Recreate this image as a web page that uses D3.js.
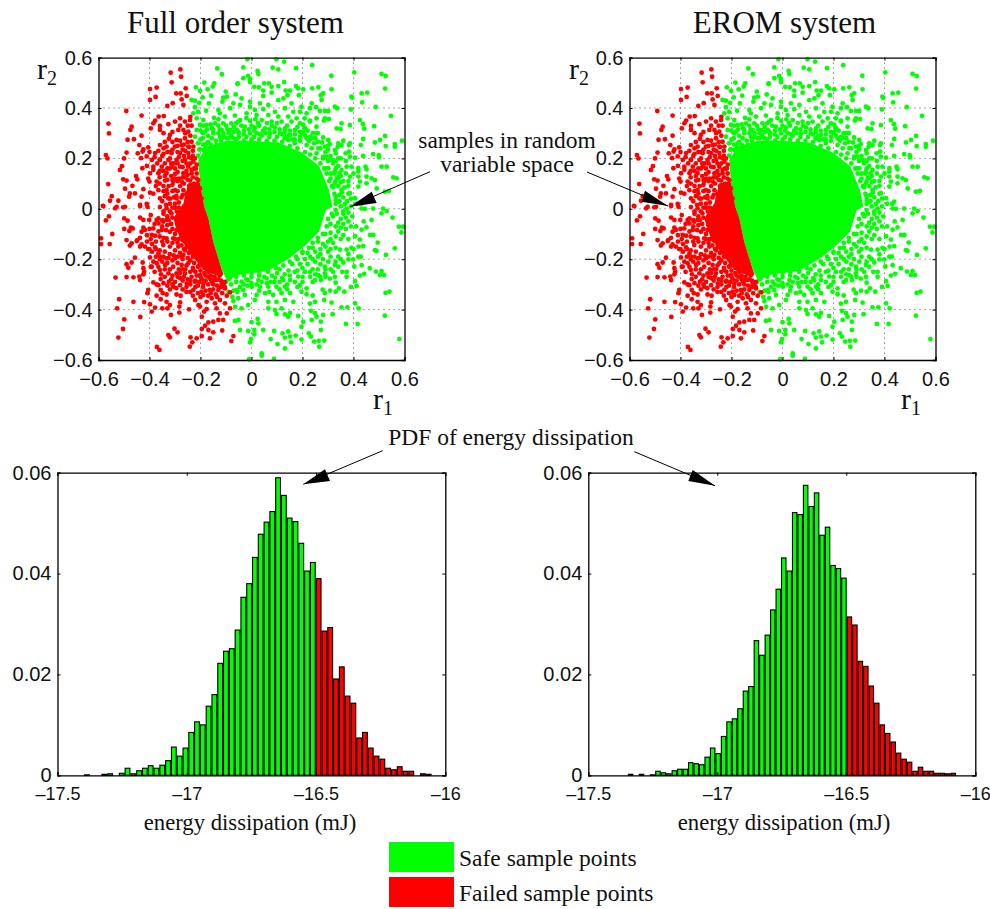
<!DOCTYPE html>
<html lang="en">
<head>
  <meta charset="UTF-8">
  <title>Full order vs EROM</title>
  <script src="https://d3js.org/d3.v7.min.js"></script>
  <style>
    html, body { margin: 0; padding: 0; background: #fff; }
    svg { display: block; }
    .serif { font-family: "Liberation Serif", serif; fill: #111; }
    .axis text { font-family: "Liberation Sans", sans-serif; font-size: 20px; fill: #111; }
    .axis path, .axis line { stroke: #000; }
  </style>
</head>
<body>
<svg id="main" width="990" height="909"></svg>
<script>
  // samples (r1, r2), both panels show the same draw
  const failedPoints = [
    [-.279,.553],[-.317,.540],[-.276,.524],[-.313,.502],[-.258,.478],[-.372,.481],[-.398,.475],[-.295,.458],[-.278,.458],[-.254,.448],
    [-.376,.444],[-.398,.432],[-.274,.434],[-.309,.419],[-.330,.408],[-.267,.412],[-.491,.388],[-.431,.370],[-.344,.368],[-.364,.366],
    [-.378,.350],[-.385,.339],[-.241,.352],[-.261,.346],[-.280,.359],[-.300,.346],[-.326,.336],[-.561,.338],[-.470,.326],[-.475,.313],
    [-.395,.319],[-.359,.329],[-.559,.299],[-.431,.290],[-.486,.274],[-.461,.276],[-.359,.313],[-.320,.293],[-.287,.313],[-.267,.313],
    [-.248,.306],[-.324,.278],[-.294,.273],[-.261,.280],[-.235,.266],[-.440,.253],[-.405,.244],[-.424,.236],[-.359,.253],[-.333,.247],
    [-.300,.247],[-.274,.253],[-.248,.247],[-.228,.247],[-.427,.227],[-.446,.220],[-.490,.223],[-.571,.213],[-.565,.200],[-.500,.200],
    [-.433,.201],[-.411,.208],[-.378,.221],[-.345,.218],[-.313,.221],[-.280,.221],[-.248,.221],[-.222,.200],[-.391,.194],[-.359,.194],
    [-.326,.194],[-.294,.194],[-.261,.194],[-.228,.187],[-.508,.169],[-.516,.154],[-.428,.161],[-.385,.167],[-.352,.167],[-.313,.167],
    [-.280,.167],[-.248,.167],[-.218,.160],[-.503,.117],[-.490,.112],[-.453,.130],[-.448,.117],[-.398,.141],[-.365,.141],[-.333,.141],
    [-.300,.138],[-.267,.141],[-.235,.141],[-.562,.098],[-.496,.080],[-.467,.091],[-.424,.078],[-.400,.108],[-.372,.108],[-.339,.112],
    [-.307,.108],[-.274,.108],[-.241,.112],[-.209,.114],[-.548,.050],[-.555,.032],[-.522,.032],[-.477,.061],[-.480,.048],[-.457,.061],
    [-.431,.048],[-.398,.064],[-.365,.074],[-.333,.074],[-.300,.074],[-.267,.074],[-.235,.074],[-.202,.081],[-.583,.012],[-.529,.008],
    [-.503,.006],[-.437,.015],[-.411,.019],[-.359,.041],[-.326,.041],[-.294,.041],[-.254,.041],[-.222,.041],[-.196,.041],
    [-.581,.011],[-.535,.002],[-.496,.008],[-.437,.011],[-.408,.008],[-.559,-.030],[-.571,-.046],[-.546,-.100],[-.590,-.117],[-.590,-.140],
    [-.556,-.140],[-.499,-.038],[-.486,-.047],[-.499,-.080],[-.473,-.075],[-.466,-.078],[-.479,-.088],[-.437,-.035],[-.424,-.044],[-.401,-.044],
    [-.395,-.025],[-.424,-.075],[-.431,-.091],[-.418,-.084],[-.490,-.124],[-.470,-.137],[-.477,-.146],[-.437,-.115],[-.448,-.124],[-.450,-.128],
    [-.391,-.104],[-.378,-.107],[-.431,-.141],[-.437,-.150],[-.418,-.150],[-.405,-.160],[-.378,-.153],[-.457,-.194],[-.470,-.213],[-.490,-.220],
    [-.483,-.234],[-.427,-.213],[-.398,-.193],[-.424,-.236],[-.421,-.250],[-.424,-.260],[-.391,-.230],[-.365,-.177],[-.365,-.038],[-.372,-.044],
    [-.346,-.051],[-.333,-.044],[-.365,-.058],[-.385,-.078],[-.352,-.084],[-.320,-.091],[-.294,-.084],[-.333,-.117],[-.307,-.117],[-.346,-.144],
    [-.320,-.150],[-.287,-.150],[-.359,-.190],[-.333,-.197],[-.300,-.197],[-.267,-.183],[-.372,-.216],[-.339,-.223],[-.307,-.230],[-.274,-.223],
    [-.248,-.216],[-.359,-.243],[-.326,-.256],[-.294,-.256],[-.261,-.256],[-.228,-.243],[-.202,-.263],[-.169,-.250],[-.533,-.273],[-.490,-.271],
    [-.463,-.272],[-.440,-.269],[-.437,-.283],[-.356,-.279],[-.324,-.289],[-.385,-.292],[-.372,-.300],[-.365,-.303],[-.405,-.322],[-.408,-.335],
    [-.372,-.345],[-.356,-.322],[-.348,-.335],[-.333,-.340],[-.307,-.309],[-.280,-.303],[-.254,-.296],[-.222,-.289],[-.189,-.296],[-.156,-.289],
    [-.137,-.283],[-.117,-.296],[-.294,-.340],[-.278,-.345],[-.228,-.322],[-.196,-.329],[-.163,-.322],[-.130,-.322],[-.104,-.316],[-.519,-.359],
    [-.527,-.395],[-.463,-.369],[-.421,-.370],[-.398,-.379],[-.378,-.392],[-.391,-.408],[-.356,-.359],[-.333,-.369],[-.320,-.382],[-.350,-.395],
    [-.330,-.395],[-.280,-.371],[-.283,-.388],[-.221,-.362],[-.208,-.382],[-.189,-.342],[-.156,-.355],[-.124,-.362],[-.097,-.345],[-.084,-.332],
    [-.245,-.399],[-.176,-.369],[-.143,-.375],[-.104,-.375],[-.202,-.388],[-.176,-.398],[-.137,-.395],[-.084,-.395],[-.316,-.421],[-.283,-.412],
    [-.436,-.429],[-.499,-.439],[-.186,-.408],[-.195,-.428],[-.124,-.415],[-.097,-.415],[-.111,-.441],[-.130,-.441],[-.150,-.448],[-.169,-.451],
    [-.182,-.464],[-.195,-.477],[-.169,-.481],[-.150,-.490],[-.115,-.483],[-.302,-.476],[-.290,-.490],[-.326,-.501],[-.320,-.510],[-.239,-.510],
    [-.215,-.514],[-.195,-.505],[-.232,-.530],[-.242,-.547],[-.163,-.514],[-.071,-.505],[-.079,-.525],[-.522,-.511],[-.504,-.477],[-.371,-.548],[-.361,-.560],
    [-.359,.007],[-.333,.002],[-.300,.004],[-.293,-.011],[-.314,-.018],[-.289,-.030],[-.274,-.059],[-.248,-.070],[-.215,-.057],[-.189,-.044],
    [-.268,-.104],[-.235,-.097],[-.202,-.091],[-.182,-.117],[-.228,-.137],[-.202,-.150],[-.254,-.150],[-.177,-.190]
  ];
  // where the red dots crowd together
  const failedCrowd = [
    [-.345,.09],[-.33,.06],[-.31,.095],[-.295,.05],[-.28,.09],[-.26,.125],[-.245,.09],[-.23,.125],[-.215,.14],[-.225,.16],
    [-.24,.18],[-.255,.15],[-.27,.165],[-.285,.12],[-.3,.16],[-.315,.13],[-.33,.115],[-.345,.15],[-.36,.125],[-.375,.09],
    [-.385,.06],[-.35,.03],[-.32,.02],[-.3,.02],[-.285,.025],[-.27,.055],[-.255,.06],[-.34,.18],[-.32,.2],[-.305,.18],
    [-.285,.205],[-.265,.21],[-.245,.205],[-.23,.21],[-.215,.175],[-.35,.21],[-.37,.18],[-.385,.155],[-.405,.12],[-.41,.17],
    [-.38,.205],[-.31,.235],[-.29,.225],[-.27,.235],[-.25,.265],[-.28,.27],[-.31,.265],[-.34,.265],[-.365,.23],[-.4,.225],
    [-.24,.29],[-.26,.3],[-.28,.33],[-.31,.305],[-.345,.3],[-.25,.33],[-.235,.33],[-.24,.365],
    [-.35,-.07],[-.335,-.085],[-.315,-.06],[-.3,-.1],[-.285,-.12],[-.31,-.135],[-.33,-.13],[-.36,-.11],[-.375,-.13],[-.39,-.17],
    [-.36,-.165],[-.34,-.17],[-.32,-.18],[-.3,-.165],[-.28,-.175],[-.26,-.165],[-.27,-.2],[-.29,-.215],[-.31,-.205],[-.33,-.215],
    [-.35,-.21],[-.375,-.19],[-.385,-.21],[-.4,-.16],[-.41,-.13],[-.38,-.25],[-.34,-.24],[-.32,-.24],[-.31,-.265],[-.285,-.24],
    [-.27,-.24],[-.255,-.225],[-.24,-.205],[-.23,-.235],[-.21,-.23],[-.2,-.245],[-.18,-.265],[-.195,-.28],[-.215,-.265],[-.235,-.27],
    [-.25,-.28],[-.27,-.285],[-.28,-.275],[-.3,-.29],[-.31,-.3],[-.33,-.305],[-.24,-.3],[-.21,-.305],[-.19,-.31],[-.17,-.3],
    [-.15,-.3],[-.135,-.305],[-.115,-.335],[-.14,-.34],[-.17,-.345],[-.2,-.35],[-.23,-.345],[-.255,-.33],[-.105,-.29],[-.125,-.265],
    [-.145,-.27],[-.16,-.265],[-.345,-.02],[-.33,-.03],[-.32,-.01],[-.35,-.045],
    [-.29,.11],[-.265,.1],[-.25,.115],[-.225,.1],[-.215,.12],[-.235,.155],[-.25,.135],[-.27,.125],[-.29,.145],[-.31,.115],
    [-.325,.09],[-.345,.07],[-.31,.07],[-.29,.07],[-.275,.045],[-.305,.045],[-.32,.04],[-.34,.05],[-.335,.015],[-.31,.005],
    [-.285,.005],[-.345,-.01],[-.325,-.045],[-.31,-.035],[-.33,-.065],[-.31,-.08],[-.29,-.065],[-.275,-.08],[-.3,-.12],[-.27,-.125],
    [-.255,-.115],[-.29,-.135],[-.275,-.145],[-.25,-.135],[-.235,-.155],[-.265,-.16],[-.245,-.175],[-.23,-.19],[-.25,-.195],[-.21,-.2],
    [-.225,-.215],[-.205,-.225],[-.185,-.255],[-.17,-.27],[-.15,-.285],[-.13,-.28],[-.12,-.285],[-.16,-.28],[-.18,-.285],[-.2,-.27],
    [-.22,-.25],[-.24,-.25],[-.26,-.24],[-.28,-.255],[-.29,-.27],[-.265,-.27],[-.22,-.285],[-.205,-.29],[-.24,-.285],[-.255,-.31],
    [-.27,-.32],[-.22,-.31],[-.18,-.325],[-.15,-.32],[-.12,-.31],[-.11,-.3],[-.105,-.31],[-.135,-.35],[-.16,-.335],[-.21,-.335],
    [-.24,-.33],[-.295,-.315],[-.32,-.32],[-.345,-.295],[-.355,-.26],[-.34,-.27],[-.315,-.28],[-.365,-.23],[-.395,-.23],[-.36,-.2],
    [-.345,-.19],[-.325,-.195],[-.305,-.185],[-.29,-.19],[-.275,-.19],[-.35,-.13],[-.345,-.115],[-.365,-.09],[-.38,-.06],[-.4,-.08],
    [-.41,-.105],[-.395,-.12],[-.375,-.16],[-.39,-.14],[-.32,.16],[-.3,.12],[-.36,.1],[-.34,.13],[-.33,.16],[-.36,.15],
    [-.315,.18],[-.29,.18],[-.27,.19],[-.255,.18],[-.235,.2],[-.26,.23],[-.29,.25],[-.265,.255],[-.245,.245],[-.23,.23],
    [-.32,.225],[-.345,.24],[-.33,.225],[-.36,.195]
  ];

  const safePoints = [
    [-.134,.557],[-.116,.534],[-.218,.482],[-.185,.501],[-.146,.498],[-.152,.485],[-.054,.498],[-.202,.468],[-.172,.474],[-.191,.442],
    [-.235,.432],[-.222,.429],[-.158,.449],[-.101,.465],[-.062,.454],[-.111,.441],[-.097,.445],[-.205,.420],[-.167,.418],[-.114,.425],
    [-.071,.418],[-.222,.403],[-.209,.385],[-.130,.392],[-.178,.389],[-.124,.379],[-.084,.399],[-.228,.379],[-.215,.359],[-.189,.352],
    [-.147,.361],[-.104,.366],[-.065,.370],[-.130,.355],[-.202,.333],[-.176,.333],[-.143,.339],[-.111,.339],[-.079,.339],[-.052,.346],
    [-.215,.313],[-.182,.306],[-.150,.313],[-.117,.313],[-.084,.313],[-.058,.313],[-.222,.286],[-.191,.280],[-.156,.280],[-.124,.286],
    [-.202,.236],[-.176,.260],[-.137,.253],[-.097,.280],[-.071,.280],[-.209,.211],[-.189,.233],[-.150,.227],[-.111,.233],
    [-.016,.593],[.098,.593],[.128,.584],[.083,.560],[.105,.553],[.175,.558],[.238,.570],[.024,.547],[.027,.535],[-.032,.561],
    [-.013,.527],[-.032,.518],[-.006,.514],[-.006,.503],[-.055,.495],[.050,.498],[.068,.498],[.011,.484],[.029,.482],[.105,.487],
    [.128,.503],[.079,.484],[.046,.469],[.079,.461],[.134,.469],[.151,.469],[.174,.487],[.183,.478],[.203,.474],[.238,.478],
    [.262,.482],[.314,.474],[.281,.458],[.272,.451],[.046,.448],[.141,.451],[.186,.451],[.275,.432],[.392,.445],[.432,.458],
    [.454,.461],[.395,.441],[.313,.528],[.403,.541],[.510,.535],[.526,.527],[.524,.477],[.434,.422],[.487,.404],[.547,.369],
    [.327,.405],[.336,.399],[.301,.388],[.288,.388],[.268,.388],[.236,.418],[.253,.403],[.255,.359],[.288,.359],[.304,.356],
    [.284,.350],[.390,.394],[.425,.352],[.437,.336],[.386,.332],[.353,.339],[.334,.319],[.349,.316],[.481,.328],[.442,.318],
    [.438,.277],[.484,.263],[.504,.273],[.524,.289],[.562,.257],[.562,.246],[.590,.270],[.526,.249],[.429,.253],[.386,.260],
    [.382,.253],[.353,.253],[.338,.246],[.327,.233],[.281,.283],[.301,.273],[.307,.257],[.277,.263],[.288,.247],[.369,.220],
    [.383,.227],[.386,.207],[.406,.203],[.438,.210],[.477,.217],[.499,.213],[.500,.204],[.510,.167],[.530,.167],[.556,.125],
    [.569,.121],[.255,.326],[.249,.299],[.229,.346],[.203,.333],[.236,.280],[.216,.253],[.262,.240],[.314,.194],[.340,.200],
    [.294,.207],[.447,.167],[.451,.157],[.419,.161],[.419,.148],[.392,.167],[.373,.167],[.353,.154],[.327,.148],[.301,.161],
    [.386,.128],[.419,.128],[.451,.128],[.471,.121],[.425,.108],[.380,.091],[.340,.121],[.327,.101],[.353,.075],[.386,.062],
    [.419,.088],[.451,.101],[.484,.114],[.491,.081],[.523,.068],[.539,.071],[.477,.001],[.516,.001],[.438,.028],[.406,.042],
    [.366,.019],[.340,.028],[.373,.001],[.432,.001],
    [-.039,.438],[-.006,.425],[.033,.418],[.066,.412],[.105,.431],[.125,.438],[.157,.418],[.196,.405],[.229,.399],[-.045,.412],
    [-.006,.405],[.013,.392],[.046,.395],[.092,.385],[.131,.399],[.164,.385],[.190,.385],[.216,.379],[-.019,.379],[.020,.372],
    [.066,.372],[.105,.366],[.144,.366],[.177,.359],[.209,.359],[.229,.350],[-.045,.352],[-.006,.349],[.040,.352],[.079,.346],
    [.118,.346],[.157,.346],[.190,.339],[-.026,.326],[.013,.323],[.053,.319],[.092,.323],[.131,.319],[.170,.313],[.203,.306],
    [-.052,.306],[-.006,.299],[.033,.296],[.072,.299],[.111,.299],[.151,.293],[.190,.286],[.216,.280],[.144,.273],[.170,.260],
    [.236,.240],[.255,.220],[.281,.207],
    [.510,-.018],[.530,-.009],[.553,-.035],[.578,-.071],[.595,-.071],[.588,-.094],[.465,-.104],[.478,-.104],[.495,-.134],[.562,-.157],
    [.484,-.164],[.490,-.167],[.527,-.183],[.445,.000],[.471,-.044],[.451,-.074],[.432,-.083],[.406,-.109],[.425,-.122],[.438,-.148],
    [.392,-.155],[.373,-.162],[.347,-.162],[.419,-.190],[.429,-.190],[.399,-.201],[.380,-.201],[.360,-.213],[.340,-.190],[.327,-.223],
    [.301,-.210],[.288,-.230],[.432,-.224],[.403,-.229],[.464,-.236],[.442,-.258],[.425,-.265],[.488,-.249],[.510,-.247],[.504,-.263],
    [.520,-.263],[.373,-.250],[.356,-.250],[.373,-.270],[.327,-.270],[.307,-.277],[.288,-.256],[.262,-.263],[.249,-.283],[.272,-.283],
    [.330,-.293],[.406,-.287],[.412,-.306],[.390,-.310],[.364,-.329],[.343,-.316],[.308,-.325],[.279,-.321],[.288,-.335],[.330,-.329],
    [.526,-.334],[.541,-.329],[.314,-.372],[.285,-.362],[.249,-.369],[.229,-.376],[.240,-.344],[.216,-.339],[.196,-.329],[.216,-.316],
    [.190,-.303],[.183,-.269],[.151,-.283],[.125,-.283],[.092,-.273],[.059,-.276],[.027,-.283],[-.013,-.283],[-.039,-.289],[.131,-.309],
    [.098,-.309],[.066,-.309],[.033,-.309],[.001,-.309],[-.032,-.322],[-.058,-.322],[.151,-.335],[.118,-.335],[.085,-.342],[.053,-.335],
    [.020,-.342],[-.026,-.342],[-.052,-.355],[.164,-.369],[.131,-.362],[.098,-.369],[.066,-.369],[.013,-.362],[-.013,-.382],[-.039,-.395],
    [.066,-.395],[.092,-.402],[.118,-.395],[.151,-.413],[.098,-.417],[.131,-.419],[.144,-.428],[.183,-.425],[.233,-.405],[.353,-.391],
    [.376,-.391],[.406,-.375],[.420,-.395],[.318,-.418],[.523,-.424],[.203,-.448],[.236,-.441],[.255,-.428],[.272,-.448],[.281,-.421],
    [.249,-.414],[.024,-.437],[.000,-.450],[.027,-.455],[-.065,-.445],[.196,-.468],[.370,-.457],[.416,-.457],[.046,-.481],[.089,-.485],
    [.272,-.481],[-.013,-.485],[.011,-.481],[-.045,-.481],[.122,-.494],[.144,-.487],[.131,-.511],[.151,-.507],[.173,-.503],[.225,-.494],
    [.196,-.519],[.233,-.507],[.246,-.527],[.264,-.524],[.285,-.523],[.075,-.517],[-.002,-.517],[.011,-.498],[.155,-.530],[.102,-.537],
    [-.006,-.530],[.266,-.547],[.131,-.554],[.580,-.517],[.040,-.574],[.040,-.583],[.088,-.596],[-.009,-.597],
    [-.071,-.366],[-.064,-.389],[-.051,-.441]
  ];
  // where the green dots crowd together around the solid core
  const safeCrowd = [
    [-.19,.3],[-.17,.29],[-.15,.3],[-.13,.3],[-.11,.3],[-.09,.3],[-.07,.305],[-.05,.3],[-.03,.295],[-.01,.315],
    [.01,.31],[.03,.33],[.045,.31],[.07,.315],[.09,.305],[.11,.315],[.13,.305],[.15,.31],[.17,.295],[.19,.305],
    [.21,.29],[.225,.27],[.245,.26],[.26,.265],[.19,.27],[.16,.275],[.13,.28],[.1,.285],[.07,.285],[.04,.29],
    [.01,.285],[-.02,.285],[-.05,.285],[-.08,.29],[-.11,.285],[-.14,.27],[-.17,.265],[-.19,.255],[-.205,.235],[-.21,.26],
    [-.2,.275],[-.19,.33],[-.16,.335],[-.13,.33],[-.1,.33],[-.07,.325],[-.04,.33],[-.02,.36],[.015,.355],[.025,.34],
    [.06,.34],[.1,.34],[.14,.33],[.18,.325],[.21,.32],[.22,.31],[.24,.3],[.26,.3],
    [.28,.2],[.3,.19],[.32,.18],[.33,.16],[.31,.14],[.335,.125],[.35,.13],[.36,.11],[.34,.09],[.32,.085],
    [.345,.055],[.36,.045],[.33,.05],[.35,.01],[.335,-.02],[.36,-.02],[.39,.01],[.41,.02],[.395,-.03],[.38,-.05],
    [.36,-.06],[.34,-.055],[.32,-.03],[.31,-.06],[.34,-.09],[.36,-.105],[.31,-.095],[.29,-.1],[.3,-.13],[.32,-.135],
    [.28,-.14],[.26,-.13],[.27,-.16],[.25,-.17],[.24,-.155],[.3,-.17],[.31,-.19],[.28,-.2],[.26,-.19],[.24,-.2],
    [.22,-.175],[.21,-.2],[.2,-.17],[.18,-.2],[.16,-.22],[.2,-.235],[.22,-.22],[.24,-.24],[.17,-.25],[.145,-.245],
    [.13,-.26],[.11,-.24],[.1,-.255],[.08,-.265],[.05,-.27],[.03,-.265],[0,-.27],[-.02,-.28],[-.06,-.29],[-.08,-.3],
    [-.09,-.33],[-.075,-.35],[-.055,-.33],[-.03,-.3],[0,-.295],[.04,-.29],[.075,-.29],[.11,-.29],[.14,-.3],[.17,-.29],
    [.2,-.27],[.23,-.27],[.26,-.24],[.29,-.24],[.31,-.24],[.27,-.27],[.34,-.23],[.35,-.2],[.38,-.18],[.4,-.16],
    [.42,-.15],[.41,-.07],[.44,-.05],[.43,.02],[.38,.11],[.4,.14],[.37,.14],[.33,.22],[.3,.235],[.35,.2],
    [.37,.19],[.31,.12],[.33,.02],[.29,.16],[.34,.26],[.36,.27],
    [-.18,.245],[-.16,.255],[-.12,.27],[-.09,.28],[-.06,.275],[-.03,.27],[0,.275],[.03,.275],[.06,.27],[.09,.27],
    [.12,.265],[.15,.25],[.18,.24],[.21,.225],[.23,.215],[.25,.2],[.27,.18],[.285,.16],[.295,.14],[.305,.11],
    [.315,.09],[.325,.06],[.33,.035],[.33,-.005],[.315,-.02],[.3,-.04],[.295,-.07],[.28,-.1],[.26,-.115],[.24,-.135],
    [.225,-.155],[.2,-.175],[.175,-.19],[.15,-.21],[.125,-.225],[.095,-.235],[.065,-.25],[.03,-.25],[0,-.255],[-.03,-.265],
    [-.06,-.27],[-.085,-.275],[-.1,-.29],[-.09,-.28],[-.2,.31],[-.175,.315],[-.155,.32],[-.125,.315],[-.095,.315],[-.06,.34],
    [-.03,.31],[0,.33],[.02,.3],[.055,.3],[.08,.33],[.12,.295],[.14,.29],[.17,.275],[.2,.3],[.23,.285],
    [.25,.28],[.27,.24],[.29,.225],[.31,.21],[.3,.25],[.33,.19],[.34,.17],[.345,.14],[.325,.14],[.35,.105],
    [.365,.085],[.33,.11],[.345,.03],[.355,.065],[.375,.03],[.38,.06],[.39,.04],[.36,-.01],[.38,-.015],[.35,-.04],
    [.37,-.035],[.33,-.07],[.35,-.075],[.37,-.08],[.39,-.07],[.33,-.11],[.35,-.12],[.38,-.12],[.31,-.12],[.29,-.15],
    [.33,-.155],[.31,-.16],[.27,-.18],[.25,-.21],[.27,-.22],[.23,-.19],[.19,-.22],[.18,-.245],[.15,-.265],[.12,-.275],
    [.09,-.29],[.06,-.295],[.02,-.3],[-.015,-.305],[-.045,-.31],[-.07,-.325],[.03,-.325],[.07,-.33],[.11,-.32],[.14,-.32],
    [.18,-.31],[.2,-.29],[.24,-.29],[.25,-.26],[.29,-.27],[.32,-.25],[.33,-.21],[.21,-.25],[.23,-.25]
  ];

  // outlines of the areas where the dots merge into solid colour
  const safeCore = [
    [-.209,.194],[-.176,.247],[-.097,.270],[0,.270],[.106,.263],[.197,.223],[.265,.17],[.304,.075],[.317,.008],[.291,-.005],
    [.265,-.09],[.213,-.144],[.148,-.196],[.066,-.246],[-.039,-.26],[-.097,-.283],[-.113,-.249],[-.13,-.197],[-.15,-.131],[-.169,-.038],
    [-.185,.008],[-.202,.101]
  ];
  const failedCore = [
    [-.205,.108],[-.248,.101],[-.267,.022],[-.307,-.038],[-.281,-.117],[-.235,-.183],[-.189,-.243],[-.124,-.27],[-.11,-.262],
    [-.13,-.197],[-.15,-.131],[-.169,-.038],[-.185,.008],[-.202,.101]
  ];

  // histogram heights, first bin centre and bin step
  const fomStart = -17.386, fomStep = 0.0224;
  const fomSafe = [.0001,0,0,.0002,.0003,0,.0004,.0014,.0003,.0009,.0014,.0019,.0014,.0020,.0029,.0056,.0038,.0054,.0085,.0106,.0100,.0137,.0160,.0222,.0246,.0251,.0288,.0353,.0380,.0432,.0478,.0502,.0523,.0590,.0555,.0510,.0503,.0460,.0405,.0422];
  const fomFailed = [.0390,.0286,.0293,.0191,.0215,.0157,.0143,.0074,.0085,.0054,.0038,.0032,.0014,.0011,.0017,.0008,.0008,0,.0003,.0002];

  const eromStart = -17.336, eromStep = 0.0212;
  const eromSafe = [.0002,0,.0002,0,.0001,.0008,.0005,.0003,.0009,.0012,.0012,.0025,.0023,.0021,.0036,.0054,.0043,.0077,.0106,.0112,.0132,.0167,.0176,.0267,.0238,.0278,.0328,.0369,.0431,.0405,.0521,.0517,.0575,.0533,.0560,.0476,.0492,.0416,.0410,.0391];
  const eromFailed = [.0314,.0298,.0226,.0216,.0177,.0143,.0100,.0083,.0066,.0044,.0032,.0026,.0008,.0016,.0008,.0008,.0004,.0004,.0003,.0004];

  const rTicks = [-0.6, -0.4, -0.2, 0, 0.2, 0.4, 0.6];
  const energyTicks = [-17.5, -17, -16.5, -16];
  const pdfTicks = [0, 0.02, 0.04, 0.06];

  const GREEN = '#00ff00', RED = '#ff0000';
  const svg = d3.select('#main');
  const fmtR = d => d3.format('.1f')(d).replace('-', '\u2212').replace(/^0\.0$/, '0');
  const fmtE = d => String(d).replace('-', '\u2013');  // the shorter dash keeps -16 inside the page
  const fmtP = d => d === 0 ? '0' : String(d);

  function box(g, x, y, xTicks, yTicks, fx, fy, bottomFont) {
    const [x0, x1] = x.range(), [y1, y0] = y.range();
    g.append('g').attr('class', 'axis').attr('transform', `translate(0,${y1})`)
      .call(d3.axisBottom(x).tickValues(xTicks).tickFormat(fx).tickSize(-3).tickPadding(9))
      .call(a => a.selectAll('.tick text').attr('dy', '0.85em').style('font-size', bottomFont + 'px'));
    g.append('g').attr('class', 'axis').attr('transform', `translate(${x0},0)`)
      .call(d3.axisLeft(y).tickValues(yTicks).tickFormat(fy).tickSize(-3).tickPadding(6));
    g.append('g').attr('class', 'axis').attr('transform', `translate(0,${y0})`)
      .call(d3.axisTop(x).tickValues(xTicks).tickFormat('').tickSize(-3));
    g.append('g').attr('class', 'axis').attr('transform', `translate(${x1},0)`)
      .call(d3.axisRight(y).tickValues(yTicks).tickFormat('').tickSize(-3));
    g.selectAll('.axis path').attr('stroke-width', 1.3);
  }

  function scatter(left, right, top, bottom) {
    const g = svg.append('g');
    const x = d3.scaleLinear().domain([-0.6, 0.6]).range([left, right]);
    const y = d3.scaleLinear().domain([-0.6, 0.6]).range([bottom, top]);

    // dotted grid
    const inner = rTicks.slice(1, -1);
    g.selectAll('.gx').data(inner).join('line')
      .attr('x1', d => x(d)).attr('x2', d => x(d)).attr('y1', top).attr('y2', bottom);
    g.selectAll('.gy').data(inner).join('line')
      .attr('y1', d => y(d)).attr('y2', d => y(d)).attr('x1', left).attr('x2', right);
    g.selectAll('line').attr('stroke', '#222').attr('stroke-width', 0.8).attr('stroke-dasharray', '1 4');

    const outline = d3.line().x(d => x(d[0])).y(d => y(d[1])).curve(d3.curveLinearClosed);
    const dots = (data, color) => g.append('g').selectAll('circle').data(data).join('circle')
      .attr('cx', d => x(d[0])).attr('cy', d => y(d[1])).attr('r', 2.4).attr('fill', color);

    g.append('path').attr('d', outline(safeCore)).attr('fill', GREEN);
    dots(safePoints.concat(safeCrowd), GREEN);
    g.append('path').attr('d', outline(failedCore)).attr('fill', RED);
    dots(failedPoints.concat(failedCrowd), RED);

    box(g, x, y, rTicks, rTicks, fmtR, fmtR, 20);
  }

  function histogram(left, right, start, step, safe, failed) {
    const top = 472.7, bottom = 775.3;
    const g = svg.append('g');
    const x = d3.scaleLinear().domain([-17.5, -16]).range([left, right]);
    const y = d3.scaleLinear().domain([0, 0.06]).range([bottom, top]);
    const bins = safe.map(v => ({ v, c: GREEN }))
      .concat(failed.map(v => ({ v, c: RED })))
      .map((d, i) => ({ ...d, center: start + i * step }))
      .filter(d => d.v > 0);
    const w = x(start + step) - x(start);
    g.selectAll('rect').data(bins).join('rect')
      .attr('x', d => x(d.center) - w / 2 + 0.5)
      .attr('width', w - 1)
      .attr('y', d => y(d.v))
      .attr('height', d => bottom - y(d.v))
      .attr('fill', d => d.c)
      .attr('stroke', '#000')
      .attr('stroke-width', 1.1);
    box(g, x, y, energyTicks, pdfTicks, fmtE, fmtP, 18);
  }

  scatter(98.5, 404.5, 57.6, 360);
  scatter(629.5, 935.5, 57.6, 360);
  histogram(57.5, 445.3, fomStart, fomStep, fomSafe, fomFailed);
  histogram(588.3, 975.3, eromStart, eromStep, eromSafe, eromFailed);

  // text
  function label(x, y, s, size, anchor) {
    return svg.append('text').attr('class', 'serif').attr('x', x).attr('y', y)
      .attr('font-size', size).attr('text-anchor', anchor || 'middle').text(s);
  }
  label(235.5, 33, 'Full order system', 31);
  label(784.5, 33, 'EROM system', 31);
  label(507, 148, 'samples in random', 23.5);
  label(507, 172, 'variable space', 23.5);
  label(511, 445, 'PDF of energy dissipation', 23.5);
  label(250, 830, 'energy dissipation (mJ)', 22.7);
  label(784, 830, 'energy dissipation (mJ)', 22.7);

  function rLabel(x, y, sub) {
    const t = svg.append('text').attr('class', 'serif').attr('x', x).attr('y', y).attr('font-size', 30);
    t.append('tspan').text('r');
    t.append('tspan').attr('font-size', 20).attr('dy', 6).text(sub);
  }
  rLabel(37, 79, '2');
  rLabel(569, 79, '2');
  rLabel(373, 409, '1');
  rLabel(901, 409, '1');

  // arrows
  const arrows = [
    [[430, 171.7], [350, 206.7], [371.7, 191.7], [376.7, 203]],
    [[587, 172], [668, 206], [645, 190.7], [641.7, 201.7]],
    [[382.7, 450.7], [303.3, 484.3], [325, 469.3], [330, 481]],
    [[634.3, 451.7], [715, 485.7], [692.7, 470], [688.3, 481]]
  ];
  arrows.forEach(a => {
    svg.append('line').attr('x1', a[0][0]).attr('y1', a[0][1]).attr('x2', a[1][0]).attr('y2', a[1][1])
      .attr('stroke', '#000').attr('stroke-width', 1);
    svg.append('polygon').attr('points', [a[1], a[2], a[3]].map(p => p.join(',')).join(' ')).attr('fill', '#000');
  });

  // legend
  const legendItems = [
    { name: 'Safe sample points', color: GREEN, y: 842 },
    { name: 'Failed sample points', color: RED, y: 877 }
  ];
  legendItems.forEach(d => {
    svg.append('rect').attr('x', 389).attr('y', d.y).attr('width', 65).attr('height', 30).attr('fill', d.color);
    label(459, d.y + 24, d.name, 23.5, 'start');
  });
</script>
</body>
</html>
